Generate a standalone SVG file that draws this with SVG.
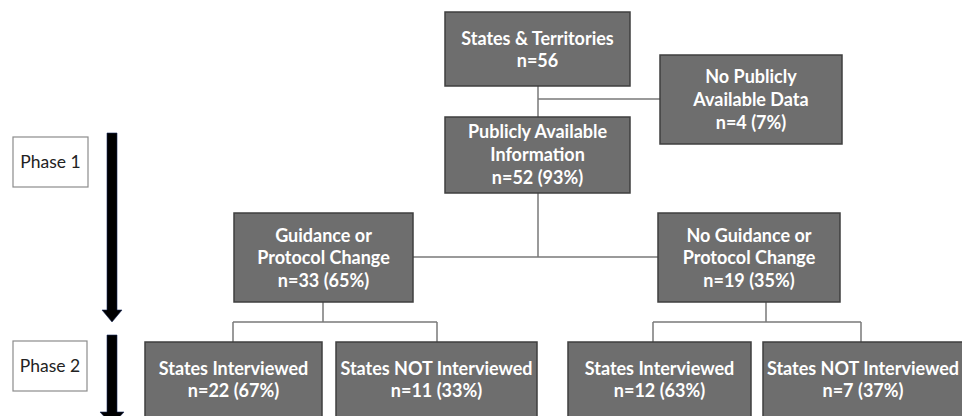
<svg xmlns="http://www.w3.org/2000/svg" width="962" height="416" viewBox="0 0 962 416">
<style>
.box{fill:#6e6e6e;stroke:#3f3f3f;stroke-width:1.5}
.t{font-family:Lato,"Liberation Sans",sans-serif;font-weight:bold;font-size:18px;fill:#ffffff;text-anchor:middle}
.ph{fill:#ffffff;stroke:#8c8c8c;stroke-width:1.2}
.pt{font-family:Lato,"Liberation Sans",sans-serif;font-size:17.5px;fill:#222222;text-anchor:middle}
.c{fill:none;stroke:#7a7a7a;stroke-width:1.5}
.arr{fill:#000000;stroke:#1a2a5a;stroke-width:0.6}
</style>
<rect width="962" height="416" fill="#ffffff"/>
<g id="connectors">
<path class="c" d="M538,86 V117 M538,99 H660"/>
<path class="c" d="M538,193 V257 M413,257 H658"/>
<path class="c" d="M323,302 V322 M233,322 H437 M233,322 V342 M437,322 V342"/>
<path class="c" d="M766,302 V322 M653,322 H861 M653,322 V342 M861,322 V342"/>
</g>
<g id="phase-arrows">
<polygon class="arr" points="107,133 117,133 117,310 122,310 112,322 102,310 107,310"/>
<polygon class="arr" points="107,335 117,335 117,412 124,412 112,425 100,412 107,412"/>
</g>
<g id="phase1"><rect class="ph" x="13" y="137" width="75" height="50"/><text class="pt" x="50.5" y="168">Phase 1</text></g>
<g id="phase2"><rect class="ph" x="13" y="341" width="74" height="50"/><text class="pt" x="50" y="372">Phase 2</text></g>
<g id="states"><rect class="box" x="445" y="12" width="185" height="74"/><text class="t" x="537.5" y="45">States &amp; Territories</text><text class="t" x="537.5" y="67">n=56</text></g>
<g id="nodata"><rect class="box" x="660" y="55" width="182" height="89"/><text class="t" x="751" y="83">No Publicly</text><text class="t" x="751" y="106">Available Data</text><text class="t" x="751" y="129">n=4 (7%)</text></g>
<g id="public"><rect class="box" x="445" y="117" width="185" height="76"/><text class="t" x="537.5" y="138">Publicly Available</text><text class="t" x="537.5" y="161">Information</text><text class="t" x="537.5" y="184">n=52 (93%)</text></g>
<g id="guidance"><rect class="box" x="234" y="213" width="179" height="89"/><text class="t" x="323.5" y="242">Guidance or</text><text class="t" x="323.5" y="264">Protocol Change</text><text class="t" x="323.5" y="287">n=33 (65%)</text></g>
<g id="noguidance"><rect class="box" x="658" y="213" width="182" height="89"/><text class="t" x="749" y="242">No Guidance or</text><text class="t" x="749" y="264">Protocol Change</text><text class="t" x="749" y="287">n=19 (35%)</text></g>
<g id="gi"><rect class="box" x="145" y="342" width="177" height="80"/><text class="t" x="233.5" y="375">States Interviewed</text><text class="t" x="233.5" y="397">n=22 (67%)</text></g>
<g id="gni"><rect class="box" x="336" y="342" width="201" height="80"/><text class="t" x="436.5" y="375">States NOT Interviewed</text><text class="t" x="436.5" y="397">n=11 (33%)</text></g>
<g id="ngi"><rect class="box" x="568" y="342" width="183" height="80"/><text class="t" x="659.5" y="375">States Interviewed</text><text class="t" x="659.5" y="397">n=12 (63%)</text></g>
<g id="ngni"><rect class="box" x="763" y="342" width="202" height="80"/><text class="t" x="863" y="375">States NOT Interviewed</text><text class="t" x="863" y="397">n=7 (37%)</text></g>
</svg>
